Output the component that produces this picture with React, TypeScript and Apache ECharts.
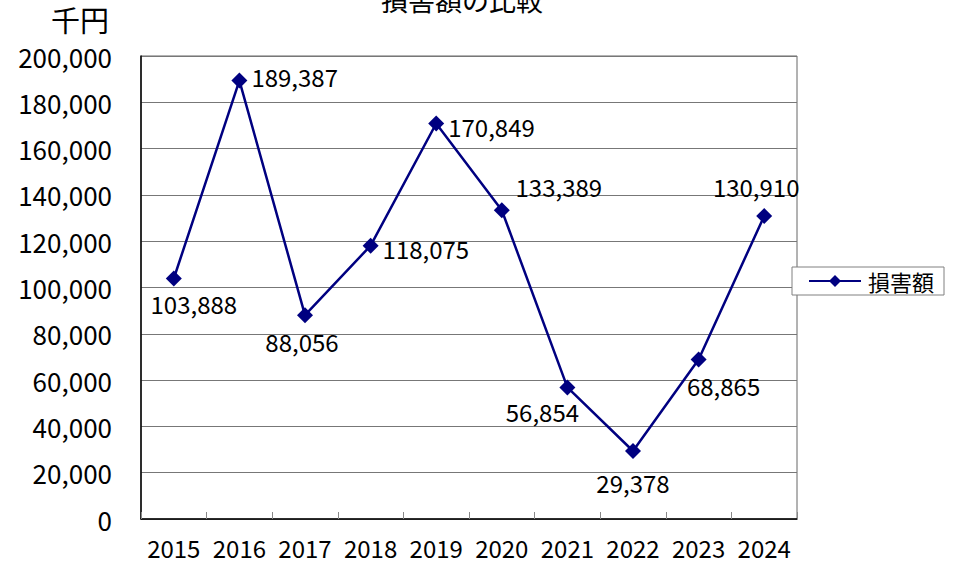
import React, { useEffect, useRef } from "react";
import * as echarts from "echarts";

const years = ["2015", "2016", "2017", "2018", "2019", "2020", "2021", "2022", "2023", "2024"];
const damage = [103888, 189387, 88056, 118075, 170849, 133389, 56854, 29378, 68865, 130910];
const yTicks = { min: 0, max: 200000, interval: 20000 };
const seriesName = "損害額";
const titleText = "損害額の比較";
const unitText = "千円";

// label placement (styling only)
const labelOffsets: [number, number][] = [
  [20, 25], [0, -4], [-3, 26], [0, 3], [0, 3],
  [57, -24], [-25, 24], [0, 32], [25, 26], [-8, -29],
];
const labelPositions = ["inside", "right", "inside", "right", "right", "inside", "inside", "inside", "inside", "inside"];

const FONT = "'Noto Sans CJK JP', 'Noto Sans', sans-serif";

export default function App() {
  const ref = useRef<HTMLDivElement>(null);
  useEffect(() => {
    if (!ref.current) return;
    const chart = echarts.init(ref.current, undefined, { renderer: "svg" });
    chart.setOption({
      animation: false,
      backgroundColor: "#ffffff",
      textStyle: { fontFamily: FONT },
      title: {
        text: titleText,
        left: 457,
        textAlign: "center",
        top: -19,
        textStyle: { fontSize: 27, fontWeight: "normal", color: "#000", fontFamily: FONT },
      },
      graphic: [
        {
          type: "text",
          left: 51,
          top: 4,
          style: { text: unitText, fontSize: 29, fill: "#000", fontFamily: FONT },
        },
      ],
      legend: {
        data: [seriesName],
        left: 792,
        top: 267,
        orient: "vertical",
        backgroundColor: "#fff",
        borderColor: "#808080",
        borderWidth: 1,
        borderRadius: 0,
        padding: [3, 10, 3, 16],
        itemWidth: 52,
        itemHeight: 15,
        itemGap: 6,
        textStyle: { fontSize: 22, color: "#000", fontFamily: FONT, padding: [0, 0, 0, 2] },
        z: 10,
      },
      grid: { left: 141, right: 161, top: 56, bottom: 43, show: true, borderColor: "#666", borderWidth: 1 },
      xAxis: {
        type: "category",
        data: years,
        boundaryGap: true,
        axisLine: { lineStyle: { color: "#000", width: 1.5 } },
        axisTick: { show: true, inside: true, length: 7, interval: 0, lineStyle: { color: "#888" } },
        axisLabel: { fontSize: 24, color: "#000", margin: 16, interval: 0, fontFamily: FONT },
        splitLine: { show: false },
      },
      yAxis: {
        type: "value",
        min: yTicks.min,
        max: yTicks.max,
        interval: yTicks.interval,
        axisLine: { show: true, lineStyle: { color: "#000", width: 1.5 } },
        axisTick: { show: false },
        axisLabel: {
          fontSize: 26,
          color: "#000",
          margin: 29,
          fontFamily: FONT,
          formatter: (v: number) => v.toLocaleString("en-US"),
        },
        splitLine: { show: true, lineStyle: { color: "#777", width: 1 } },
      },
      series: [
        {
          name: seriesName,
          type: "line",
          data: damage.map((v, i) => ({
            value: v,
            label: {
              position: labelPositions[i],
              offset: labelOffsets[i],
            },
          })),
          symbol: "diamond",
          symbolSize: 16,
          color: "#000080",
          lineStyle: { color: "#000080", width: 2.5 },
          itemStyle: { color: "#000080" },
          label: {
            show: true,
            fontSize: 24,
            color: "#000",
            fontFamily: FONT,
            distance: 4,
            formatter: (p: any) => Number(p.value).toLocaleString("en-US"),
          },
        },
      ],
    });
    return () => chart.dispose();
  }, []);
  return <div ref={ref} style={{ position: "absolute", left: 0, top: 0, width: 958, height: 562 }} />;
}
